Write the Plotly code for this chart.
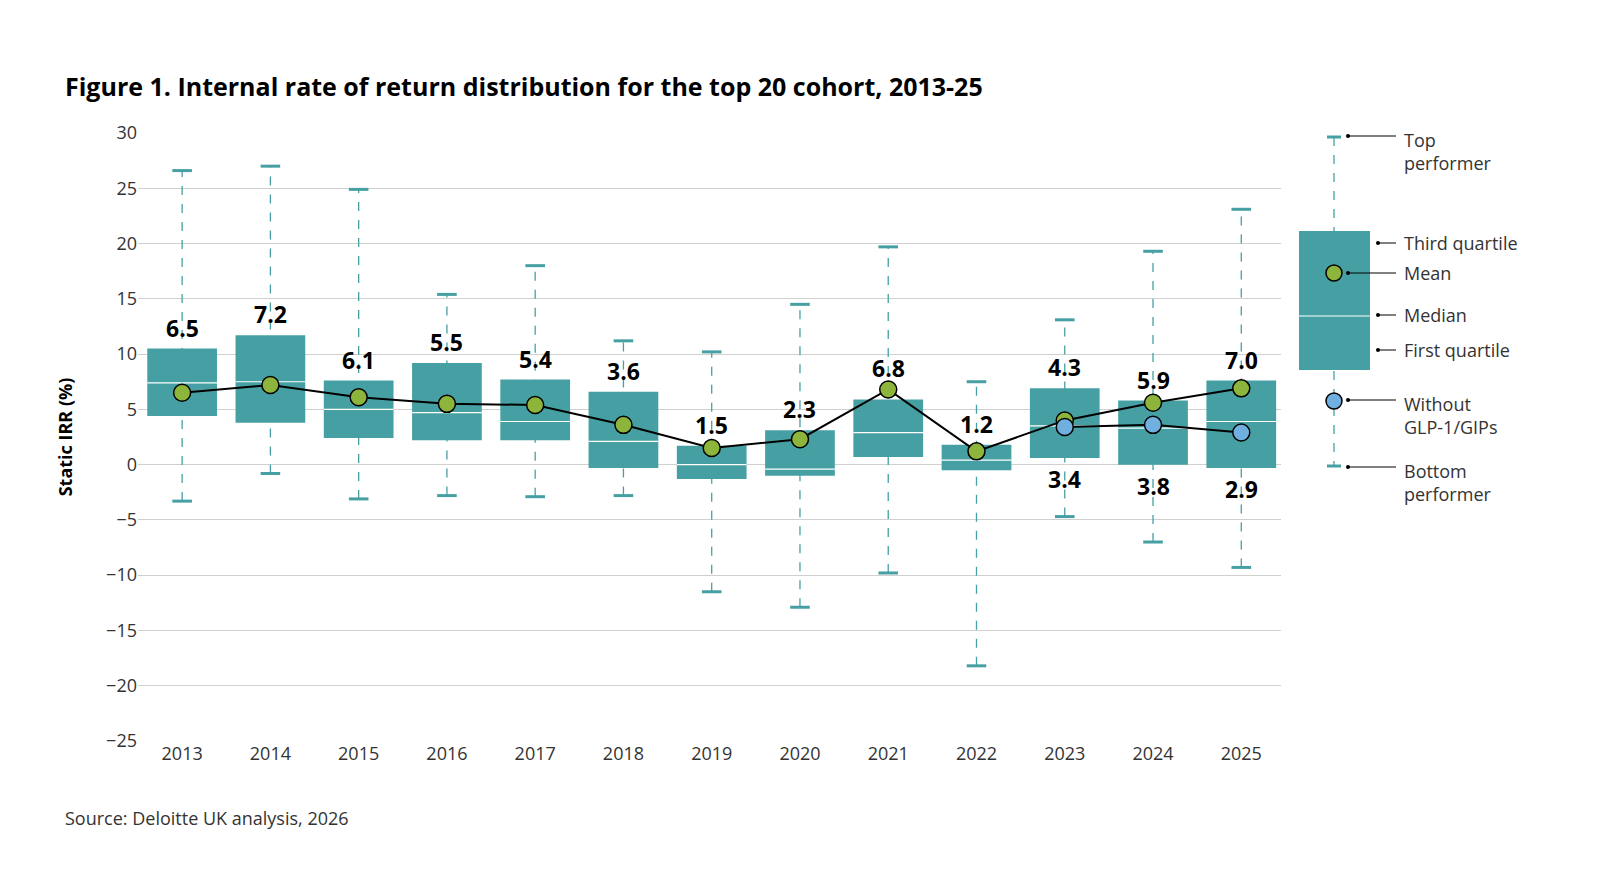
import plotly.graph_objects as go

years = ["2013","2014","2015","2016","2017","2018","2019","2020","2021","2022","2023","2024","2025"]
top = [26.6,27.0,24.9,15.4,18.0,11.2,10.2,14.5,19.7,7.5,13.1,19.3,23.1]
q3 = [10.5,11.7,7.6,9.2,7.7,6.6,1.7,3.1,5.9,1.8,6.9,5.8,7.6]
median = [7.4,7.5,5.0,4.7,3.9,2.1,0.0,-0.4,2.9,0.4,3.5,3.3,3.9]
q1 = [4.4,3.8,2.4,2.2,2.2,-0.3,-1.3,-1.0,0.7,-0.5,0.6,0.0,-0.3]
bottom = [-3.3,-0.8,-3.1,-2.8,-2.9,-2.8,-11.5,-12.9,-9.8,-18.2,-4.7,-7.0,-9.3]
mean = [6.5,7.2,6.1,5.5,5.4,3.6,1.5,2.3,6.8,1.2,4.3,5.9,7.0]
mean_plot = [6.5,7.2,6.1,5.5,5.4,3.6,1.5,2.3,6.8,1.2,4.0,5.6,6.9]
without_years = ["2023","2024","2025"]
without = [3.4,3.8,2.9]
without_plot = [3.4,3.6,2.9]

TEAL = "#46a0a3"; GREEN = "#8db53c"; BLUE = "#6fb0e0"
x = list(range(len(years)))
W = 0.79
fig = go.Figure()
# whiskers
wx, wy = [], []
for i in x:
    wx += [i, i, None]; wy += [bottom[i], top[i], None]
fig.add_trace(go.Scatter(x=wx, y=wy, mode="lines", line=dict(color=TEAL, width=1.3, dash="dash"), hoverinfo="skip"))
fig.add_trace(go.Scatter(x=x+x, y=top+bottom, mode="markers", marker=dict(symbol="line-ew", size=14, line=dict(color=TEAL, width=3)), hoverinfo="skip"))
# boxes
fig.add_trace(go.Bar(x=x, y=[a-b for a, b in zip(q3, q1)], base=q1, width=W, marker=dict(color=TEAL, line=dict(width=0))))
# medians
mx, my = [], []
for i in x:
    mx += [i-W/2, i+W/2, None]; my += [median[i], median[i], None]
fig.add_trace(go.Scatter(x=mx, y=my, mode="lines", line=dict(color="white", width=1.2), hoverinfo="skip"))
# mean line
fig.add_trace(go.Scatter(x=x, y=mean_plot, mode="lines+markers", line=dict(color="black", width=2),
                         marker=dict(color=GREEN, size=17, line=dict(color="black", width=1.5))))
wxi = [years.index(y) for y in without_years]
fig.add_trace(go.Scatter(x=wxi, y=without_plot, mode="lines+markers", line=dict(color="black", width=2),
                         marker=dict(color=BLUE, size=17, line=dict(color="black", width=1.5))))

ann = []
for i in x:
    ann.append(dict(x=i, y=max(q3[i], mean_plot[i]), text=f"<b>{mean[i]:.1f}</b>", showarrow=False,
                    yanchor="bottom", yshift=3, font=dict(size=23, color="black")))
for j, i in enumerate(wxi):
    ann.append(dict(x=i, y=q1[i], text=f"<b>{without[j]:.1f}</b>", showarrow=False,
                    yanchor="top", yshift=-3, font=dict(size=23, color="black")))

# legend (pixel helpers)
L, R, T, B = 130, 1273, 125, 733
px = lambda p: (p - L) / (R - L)
py = lambda p: (B - p) / (B - T)
shapes = [
    dict(type="line", xref="paper", yref="paper", x0=px(1326), x1=px(1326), y0=py(129), y1=py(458), line=dict(color=TEAL, width=1.3, dash="dash")),
    dict(type="line", xref="paper", yref="paper", x0=px(1319), x1=px(1333), y0=py(129), y1=py(129), line=dict(color=TEAL, width=3)),
    dict(type="line", xref="paper", yref="paper", x0=px(1319), x1=px(1333), y0=py(458), y1=py(458), line=dict(color=TEAL, width=3)),
    dict(type="rect", xref="paper", yref="paper", x0=px(1291), x1=px(1362), y0=py(362), y1=py(223), fillcolor=TEAL, line=dict(width=0)),
    dict(type="line", xref="paper", yref="paper", x0=px(1291), x1=px(1362), y0=py(308), y1=py(308), line=dict(color="white", width=1.2)),
    dict(type="circle", xref="paper", yref="paper", x0=px(1318), x1=px(1334), y0=py(273), y1=py(257), fillcolor=GREEN, line=dict(color="black", width=1.5)),
    dict(type="circle", xref="paper", yref="paper", x0=px(1318), x1=px(1334), y0=py(401), y1=py(385), fillcolor=BLUE, line=dict(color="black", width=1.5)),
]
for yy, lab in [(128, "Top<br>performer"), (235, "Third quartile"), (265, "Mean"), (307, "Median"), (342, "First quartile"), (392, "Without<br>GLP-1/GIPs"), (459, "Bottom<br>performer")]:
    x0 = 1340 if yy in (128, 265, 392, 459) else 1370
    shapes.append(dict(type="line", xref="paper", yref="paper", x0=px(x0), x1=px(1388), y0=py(yy), y1=py(yy), line=dict(color="black", width=1)))
    shapes.append(dict(type="circle", xref="paper", yref="paper", x0=px(x0-2), x1=px(x0+2), y0=py(yy+2), y1=py(yy-2), fillcolor="black", line=dict(width=0)))
    two = "<br>" in lab
    ann.append(dict(xref="paper", yref="paper", x=px(1394), y=py(yy - 10 if two else yy), text=lab, showarrow=False,
                    xanchor="left", yanchor="top" if two else "middle", align="left",
                    font=dict(size=18, color="#333"), ))

ann.append(dict(xref="paper", yref="paper", x=px(55), y=py(810), text="Source: Deloitte UK analysis, 2026", showarrow=False,
                xanchor="left", yanchor="middle", font=dict(size=18, color="#333")))
ann.append(dict(xref="paper", yref="paper", x=px(55), y=py(78), text="<b>Figure 1. Internal rate of return distribution for the top 20 cohort, 2013-25</b>",
                showarrow=False, xanchor="left", yanchor="middle", font=dict(size=25, color="black")))

fig.update_layout(
    width=1610, height=880, margin=dict(l=L, r=1610-R, t=T, b=880-B),
    plot_bgcolor="white", paper_bgcolor="white", showlegend=False,
    font=dict(family="Open Sans", color="#333"),
    annotations=ann, shapes=shapes,
    xaxis=dict(tickmode="array", tickvals=x, ticktext=years, range=[-0.5, 12.45], showgrid=False,
               tickfont=dict(size=18, color="#333"), ticks=""),
    yaxis=dict(range=[-25, 30], tickvals=list(range(-25, 31, 5)), gridcolor="#d0d0d0", zeroline=False,
               tickfont=dict(size=18, color="#333"), title=dict(text="<b>Static IRR (%)</b>", font=dict(size=18, color="black"), standoff=28)),
)
fig.write_html("out.html")
